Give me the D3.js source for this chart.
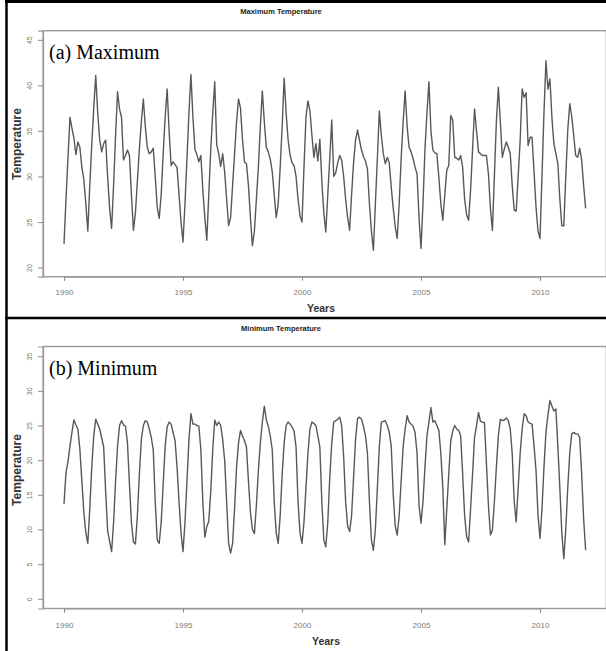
<!DOCTYPE html>
<html><head><meta charset="utf-8">
<script src="https://cdn.jsdelivr.net/npm/d3@7"></script>
<style>html,body{margin:0;padding:0;background:#fff}svg{display:block}</style>
</head><body>
<script>
// ---- data (monthly, Jan 1990 .. Dec 2011) ----
const startYear = 1990;
const xTickYears = [1990, 1995, 2000, 2005, 2010];
const maxTicks = [20, 25, 30, 35, 40, 45];
const minTicks = [0, 5, 10, 15, 20, 25, 30, 35];

const maxTemp = [
  22.6,27.5,32,36.5,35.3,34.2,32.4,33.8,33.2,31,29.7,27,        // 1990
  24,29,33.5,37.5,41.1,37,34,32.7,33.6,34,30,26.5,              // 1991
  24.3,29,34.5,39.3,37.4,36.5,31.8,32.3,32.9,32.3,28,24.1,      // 1992
  26,29.5,33,36,38.5,35.5,33.2,32.5,32.7,33.1,30,26.6,          // 1993
  25.4,28,32.5,36.5,39.6,35,31.2,31.6,31.3,31,28,25,            // 1994
  22.8,27,32,37,41.2,36.5,33,32.4,31.6,32.3,28.5,25.5,          // 1995
  23,28,33,37,40.4,33.5,32.5,31.1,32.5,30.5,27.5,24.6,          // 1996
  25.5,29,32.5,36,38.5,37.5,34,31.6,31.4,29,25.5,22.4,          // 1997
  24,27.5,31,35.5,39.4,36,33.2,32.7,31.9,30.5,28,25.5,          // 1998
  27,31,35.5,40.8,37,34,32.3,31.5,31.2,30,27.5,25.7,            // 1999
  25,31,36.5,38.3,37.2,34.5,32.1,33.6,31.7,34.1,29.5,26,        // 2000
  23.9,28,32,36.2,30,30.4,31.5,32.3,31.8,30,27.5,25.5,          // 2001
  24.1,28,31.5,34,35.1,34,32.9,32.2,31.7,30.8,27,24,            // 2002
  21.9,27,32,37.2,34.5,32.5,31.4,32.1,31.5,28.8,26.5,24.5,      // 2003
  23.2,27,32,36,39.4,35.5,33.2,32.7,32,31,30.3,25.5,            // 2004
  22.1,27,33,37,40.4,35,32.9,32.6,32.5,29.9,27,25.2,            // 2005
  28,30.7,31.2,36.7,36.2,32.1,32,31.8,32.3,31,27.5,25.8,        // 2006
  25.2,28.5,33,37.4,35,32.7,32.5,32.3,32.3,32.3,30.3,26.5,      // 2007
  24.1,30,36,39.8,36,32.1,33,33.8,33.2,32.5,29,26.3,            // 2008
  26.2,30,34,39.6,38.7,39.2,33.4,34.3,34.3,30.5,26.6,24,        // 2009
  23.2,30,37,42.7,39.6,40.7,36.5,33.6,32.5,31.4,27.5,24.6,      // 2010
  24.6,30,35.1,38,36.6,34.5,32.3,32.1,33.1,31.8,29,26.5         // 2011
];

const minTemp = [
  13.7,18.2,19.8,22,24,25.8,25.1,24.5,21.6,17,12.5,9.5,         // 1990
  8,13,19,23.5,25.9,25.2,24.5,23.2,21.9,15.5,9.8,8.3,           // 1991
  6.8,11,17,22,25,25.7,25.1,24.9,22.5,16.5,11,8.2,              // 1992
  7.9,12,18,23,25,25.7,25.5,24.5,23.3,21.5,14,8.5,              // 1993
  8,11,16.5,22,24.8,25.5,25.2,24,22.8,19,14,9.5,                // 1994
  6.8,11,17,23,26.7,25.2,25.2,25,24.9,21.5,14,8.9,              // 1995
  10.4,11.2,15.5,21.5,25.8,25,25.5,25,23,20,14,8,               // 1996
  6.6,8,13,19,22.5,24.3,23.5,22.8,21.9,17,12.5,10,              // 1997
  9.4,13.5,18.5,22.5,25.5,27.8,25.8,24.9,23.5,21.5,14,9.5,      // 1998
  8,12,18,22.5,25,25.5,25.2,24.8,24.2,21.9,14,9.5,              // 1999
  8,11,16,21,24.5,25.5,25.3,25,23.5,21.9,14,8.5,                // 2000
  7.5,11,17.5,22.5,25.5,25.7,25.9,26.2,25,20.5,14,10.5,         // 2001
  9.7,12,17.5,23,26,26.2,25.9,24.9,23.5,21,14,8.5,              // 2002
  7,10,16,22,25.5,25.6,25.7,25,24,22,15,10.5,                   // 2003
  9.2,12,17,22,24.5,26.4,25.5,25.2,24.9,24,21,13.5,             // 2004
  10.9,14,19,23.5,25.5,27.6,25.5,25.7,25,24.3,21,16,            // 2005
  7.8,13,18,22.8,24.2,25,24.5,24.3,23.5,18,12,9,                // 2006
  8.2,13,18,23.3,25,26.9,25.6,25.5,25.4,19.5,13.5,9.2,          // 2007
  9.9,14,19,23.5,25.9,25.7,25.8,26.1,25.7,24.5,20.9,14,         // 2008
  11.1,16,21,24.5,26.7,26.4,25.5,25.3,25.2,22,18.5,12,          // 2009
  8.7,13,19,24,26.5,28.6,27.8,27.1,27.4,22,16,9.5,              // 2010
  5.8,10,16.1,21,23.8,24,23.8,23.8,23.3,18,11.5,7               // 2011
];

const panels = [
  {title: "Maximum Temperature", tag: "(a) Maximum", tagY: 59, values: maxTemp, ticks: maxTicks,
   yDom: [19, 46], top: 30.7, bottom: 276.7, titleY: 13.5, yearsY: 312, yearsX: 321, tickLabY: 292, ylabY: 144},
  {title: "Minimum Temperature", tag: "(b) Minimum", tagY: 375, values: minTemp, ticks: minTicks,
   yDom: [-1.4, 36.4], top: 346.5, bottom: 608.5, titleY: 331, yearsY: 645, yearsX: 326, tickLabY: 625, ylabY: 470}
];

const W = 606, H = 651;
const svg = d3.select("body").append("svg").attr("width", W).attr("height", H);

const x = d3.scaleLinear().domain([1990, 2010]).range([64, 540]);
const boxL = x(1989.12), boxR = x(2012.79);

panels.forEach(p => {
  const y = d3.scaleLinear().domain(p.yDom).range([p.bottom, p.top]);
  const g = svg.append("g");
  const data = p.values.map((v, i) => ({t: startYear + i / 12, v}));

  // plot box
  g.append("rect").attr("x", boxL).attr("y", p.top)
    .attr("width", boxR - boxL).attr("height", p.bottom - p.top)
    .attr("fill", "none").attr("stroke", "#9a9a9a").attr("stroke-width", 1.4);

  // x axis
  const xa = g.append("g").attr("transform", `translate(0,${p.bottom})`)
    .call(d3.axisBottom(x).tickValues(xTickYears).tickFormat(d3.format("d")).tickSize(4).tickPadding(3));
  xa.select(".domain").attr("stroke", "#9a9a9a").attr("stroke-width", 1.2);
  xa.selectAll(".tick line").attr("stroke", "#8a8a8a");
  xa.selectAll(".tick text").attr("fill", "#7a7a7a").attr("font-family", "Liberation Sans, Arial, sans-serif")
    .attr("font-size", 8).attr("dy", null).attr("y", p.tickLabY - p.bottom + 3);

  // y axis
  const ya = g.append("g").attr("transform", `translate(${boxL},0)`)
    .call(d3.axisLeft(y).tickValues(p.ticks).tickFormat(d3.format("d")).tickSize(5).tickPadding(3));
  ya.select(".domain").attr("stroke", "#9a9a9a").attr("stroke-width", 1.2);
  ya.selectAll(".tick line").attr("stroke", "#8a8a8a");
  ya.selectAll(".tick text").attr("fill", "#7a7a7a").attr("font-family", "Liberation Sans, Arial, sans-serif")
    .attr("font-size", 7).attr("x", null).attr("dy", null)
    .attr("text-anchor", "middle")
    .attr("transform", "translate(-11,0) rotate(-90)");

  // data line
  g.append("path").datum(data)
    .attr("d", d3.line().x(d => x(d.t)).y(d => y(d.v)))
    .attr("fill", "none").attr("stroke", "#585858").attr("stroke-width", 1.4)
    .attr("stroke-linejoin", "round");

  // titles & labels
  g.append("text").attr("x", 281).attr("y", p.titleY).attr("text-anchor", "middle")
    .attr("font-family", "Liberation Sans, Arial, sans-serif").attr("font-weight", "bold")
    .attr("font-size", 7.5).attr("fill", "#222").text(p.title);
  g.append("text").attr("x", p.yearsX).attr("y", p.yearsY).attr("text-anchor", "middle")
    .attr("font-family", "Liberation Sans, Arial, sans-serif").attr("font-weight", "bold")
    .attr("font-size", 10.5).attr("fill", "#333").text("Years");
  g.append("text").attr("transform", `translate(21,${p.ylabY}) rotate(-90)`).attr("text-anchor", "middle")
    .attr("font-family", "Liberation Sans, Arial, sans-serif").attr("font-weight", "bold")
    .attr("font-size", 12).attr("fill", "#333").text("Temperature");
  g.append("text").attr("x", 49).attr("y", p.tagY)
    .attr("font-family", "Liberation Serif, Times New Roman, serif")
    .attr("font-size", 20).attr("fill", "#000").text(p.tag);
});

// black frame lines
svg.append("line").attr("x1", 5).attr("x2", W).attr("y1", 1.5).attr("y2", 1.5).attr("stroke", "#000").attr("stroke-width", 3);
svg.append("line").attr("x1", 6.5).attr("x2", 6.5).attr("y1", 0).attr("y2", H).attr("stroke", "#000").attr("stroke-width", 2.5);
svg.append("line").attr("x1", 5).attr("x2", W).attr("y1", 318).attr("y2", 318).attr("stroke", "#000").attr("stroke-width", 2.5);
</script>
</body></html>
